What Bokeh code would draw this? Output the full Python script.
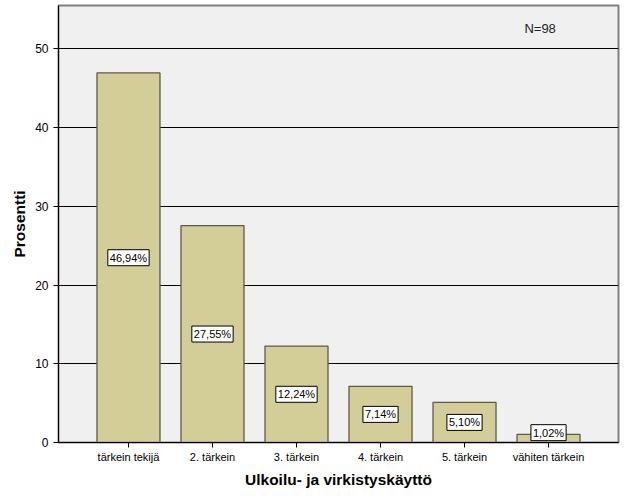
from bokeh.plotting import figure
from bokeh.models import ColumnDataSource, Range1d, FixedTicker, Label
from bokeh.core.properties import value
from bokeh.embed import file_html
from bokeh.resources import INLINE

categories = ["tärkein tekijä", "2. tärkein", "3. tärkein", "4. tärkein", "5. tärkein", "vähiten tärkein"]
values = [46.94, 27.55, 12.24, 7.14, 5.10, 1.02]
value_labels = ["46,94%", "27,55%", "12,24%", "7,14%", "5,10%", "1,02%"]
y_ticks = [0, 10, 20, 30, 40, 50]
n_text = "N=98"

xs = list(range(len(categories)))
label_y = [max(v / 2, 1.25) for v in values]
src = ColumnDataSource(dict(x=xs, top=values, ly=label_y, txt=value_labels))

p = figure(width=626, height=501, output_backend="svg", toolbar_location=None,
           x_range=Range1d(-0.833, 5.833), y_range=Range1d(0, 55.5))
p.min_border_left = 58
p.min_border_right = 8
p.min_border_top = 5
p.min_border_bottom = 59
p.background_fill_color = "#F0F0F0"
p.border_fill_color = "white"
p.outline_line_color = "#808080"
p.outline_line_width = 2

p.vbar(x="x", top="top", width=0.75, bottom=0, source=src,
       fill_color="#D3CE97", line_color="#5E5A48", line_width=1.3)

p.text(x="x", y="ly", text="txt", source=src, text_align="center",
       text_baseline="middle", text_font_size=value("11px"), text_font=value("Liberation Sans"),
       text_color="black", background_fill_color="white", border_line_color="black",
       border_line_width=1, padding=2)

p.add_layout(Label(x=4.9, y=52.6, text=n_text, text_align="center", text_baseline="middle",
                   text_font_size="13px", text_font="Liberation Sans", text_color="#222222"))

p.xgrid.visible = False
p.ygrid.ticker = FixedTicker(ticks=y_ticks[1:])
p.ygrid.grid_line_color = "black"
p.ygrid.grid_line_width = 1
p.ygrid.level = "underlay"

p.yaxis.ticker = FixedTicker(ticks=y_ticks)
p.xaxis.ticker = FixedTicker(ticks=xs)
p.xaxis.major_label_overrides = {i: c for i, c in enumerate(categories)}
for ax in (p.xaxis, p.yaxis):
    ax.minor_tick_line_color = None
    ax.major_tick_in = 0
    ax.major_tick_out = 5
    ax.axis_line_color = "black"
    ax.major_tick_line_color = "black"
    ax.major_label_text_font = "Liberation Sans"
    ax.major_label_text_font_size = "11px"
    ax.major_label_text_color = "black"
    ax.axis_label_text_font = "Liberation Sans"
    ax.axis_label_text_font_style = "bold"
    ax.axis_label_text_font_size = "15.5px"
    ax.axis_label_text_color = "black"
p.yaxis.major_label_text_font_size = "12px"
p.xaxis.axis_label = "Ulkoilu- ja virkistyskäyttö"
p.yaxis.axis_label = "Prosentti"
p.xaxis.major_label_standoff = 3
p.xaxis.axis_label_standoff = 5
p.yaxis.axis_label_standoff = 4

open("out.html", "w").write(file_html(p, INLINE))
